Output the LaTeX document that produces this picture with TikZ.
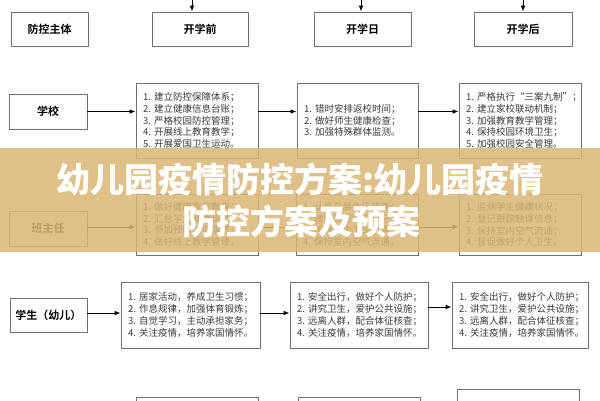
\documentclass[tikz,border=0pt]{standalone}
\usepackage{fontspec}
\setmainfont{Noto Sans CJK SC}[BoldFont={Noto Sans CJK SC Bold}]
\newfontfamily\bannerfont{Noto Sans CJK SC Black}
\usetikzlibrary{arrows.meta}
\definecolor{boxline}{HTML}{707070}
\definecolor{band}{RGB}{217,182,116}
\definecolor{txt}{HTML}{3A3A3A}
\tikzset{
  hdr/.style={draw=boxline, line width=0.8pt, minimum height=34pt, inner sep=0pt,
    font=\fontsize{11}{13}\selectfont\bfseries, text=black},
  content/.style={draw=boxline, line width=0.8pt, inner xsep=7pt, inner ysep=0pt,
    align=left, font=\fontsize{9.5}{11.7}\selectfont, text=txt},
  arr/.style={line width=0.8pt, -{Latex[length=6pt,width=4.5pt]}},
}
\begin{document}
\begin{tikzpicture}[x=1pt, y=-1pt]
\useasboundingbox (0,0) rectangle (600,400);
\clip (0,0) rectangle (600,400);
\fill[white] (0,0) rectangle (600,400);

% header row
\node[hdr, minimum width=77pt] (fk) at (49.5,29) {防控主体};
\node[hdr, minimum width=96pt] (kq) at (200,29) {开学前};
\node[hdr, minimum width=97pt] (kr) at (362.5,29) {开学日};
\node[hdr, minimum width=98pt] (kh) at (523,29) {开学后};
\coordinate (t1) at (192,-20);
\coordinate (t2) at (361,-20);
\coordinate (t3) at (523,-20);
\draw[arr] (t1) -- (t1 |- kq.north);
\draw[arr] (t2) -- (t2 |- kr.north);
\draw[arr] (t3) -- (t3 |- kh.north);

% row 1: school
\node[hdr, minimum width=78pt, minimum height=35pt] (xx) at (48,111.5) {学校};
\node[content, minimum width=122pt, minimum height=75pt, text width=108pt] (s1) at (197,120.5)
 {1.~建立防控保障体系；\\2.~建立健康信息台账；\\3.~严格校园防控管理；\\4.~开展线上教育教学；\\5.~开展爱国卫生运动。};
\node[content, minimum width=121pt, minimum height=75pt, text width=107pt] (s2) at (357.5,120.5)
 {1.~错时安排返校时间；\\2.~做好师生健康检查；\\3.~加强特殊群体监测。};
\node[content, minimum width=122pt, minimum height=75pt, text width=108pt] (s3) at (520,120.5)
 {1.~严格执行“三案九制”；\\2.~建立家校联动机制；\\3.~加强教育教学管理；\\4.~保持校园环境卫生；\\5.~加强校园安全管理。};
\draw[arr] (xx.east) -- (xx.east -| s1.west);
\draw[arr] (s1.east |- xx.east) -- (s2.west |- xx.east);
\draw[arr] (s2.east |- xx.east) -- (s3.west |- xx.east);

% row 2: head teacher
\node[hdr, minimum width=78pt, minimum height=35pt] (bz) at (48,228.5) {班主任};
\node[content, minimum width=122pt, minimum height=61pt, text width=108pt] (b1) at (197,224.5)
 {1.~做好健康宣传教育；\\2.~汇总学生健康信息；\\3.~参加预防培训演练；\\4.~做好线上教学管理。};
\node[content, minimum width=122pt, minimum height=61pt, text width=108pt] (b2) at (357,224.5)
 {1.~认真开展体征核查；\\2.~做好返校情况登记；\\3.~加强学生卫生教育；\\4.~保持室内空气流通。};
\node[content, minimum width=122pt, minimum height=61pt, text width=108pt] (b3) at (520,224.5)
 {1.~监测学生健康状况；\\2.~登记跟踪缺课信息；\\3.~保持室内空气流通；\\4.~督促做好个人卫生。};
\draw[arr] ([yshift=1.5pt]bz.east) -- ([yshift=1.5pt]bz.east -| b1.west);
\draw[arr] ([yshift=1.5pt]b1.east |- bz.east) -- ([yshift=1.5pt]b2.west |- bz.east);
\draw[arr] ([yshift=1.5pt]b2.east |- bz.east) -- ([yshift=1.5pt]b3.west |- bz.east);

% row 3: pupils
\node[hdr, minimum width=77pt] (xs) at (48.5,315) {学生（幼儿）};
\node[content, minimum width=139pt, minimum height=66pt, text width=125pt] (x1) at (190.5,315)
 {1.~居家活动，养成卫生习惯；\\2.~作息规律，加强体育锻炼；\\3.~自觉学习，主动承担家务；\\4.~关注疫情，培养家国情怀。};
\node[content, minimum width=138pt, minimum height=66pt, text width=124pt] (x2) at (359,315)
 {1.~安全出行，做好个人防护；\\2.~讲究卫生，爱护公共设施；\\3.~远离人群，配合体征核查；\\4.~关注疫情，培养家国情怀。};
\node[content, minimum width=136pt, minimum height=66pt, text width=122pt] (x3) at (520,315)
 {1.~安全出行，做好个人防护；\\2.~讲究卫生，爱护公共设施；\\3.~远离人群，配合体征核查；\\4.~关注疫情，培养家国情怀。};
\draw[arr] ([yshift=2pt]xs.east) -- ([yshift=2pt]xs.east -| x1.west);
\draw[arr] ([yshift=2pt]x1.east |- xs.east) -- ([yshift=2pt]x2.west |- xs.east);
\draw[arr] ([yshift=8pt]x2.east) -- ([yshift=8pt]x2.east -| x3.west);

% row 4 (cut off at the bottom)
\node[content, minimum width=122pt, minimum height=60pt] (d1) at (197,427) {};
\node[content, minimum width=122pt, minimum height=60pt] (d2) at (359,427) {};
\node[content, minimum width=122pt, minimum height=60pt] (d3) at (518,419) {};

% banner overlay
\fill[band, opacity=0.85] (0,148) rectangle (600,252);
\node[text=white, font=\bannerfont\fontsize{34}{40}\selectfont, inner sep=0pt] (bt1) at (300,179) {幼儿园疫情防控方案:幼儿园疫情};
\node[text=white, font=\bannerfont\fontsize{34}{40}\selectfont, inner sep=0pt] (bt2) at (301,221) {防控方案及预案};
\end{tikzpicture}
\end{document}
